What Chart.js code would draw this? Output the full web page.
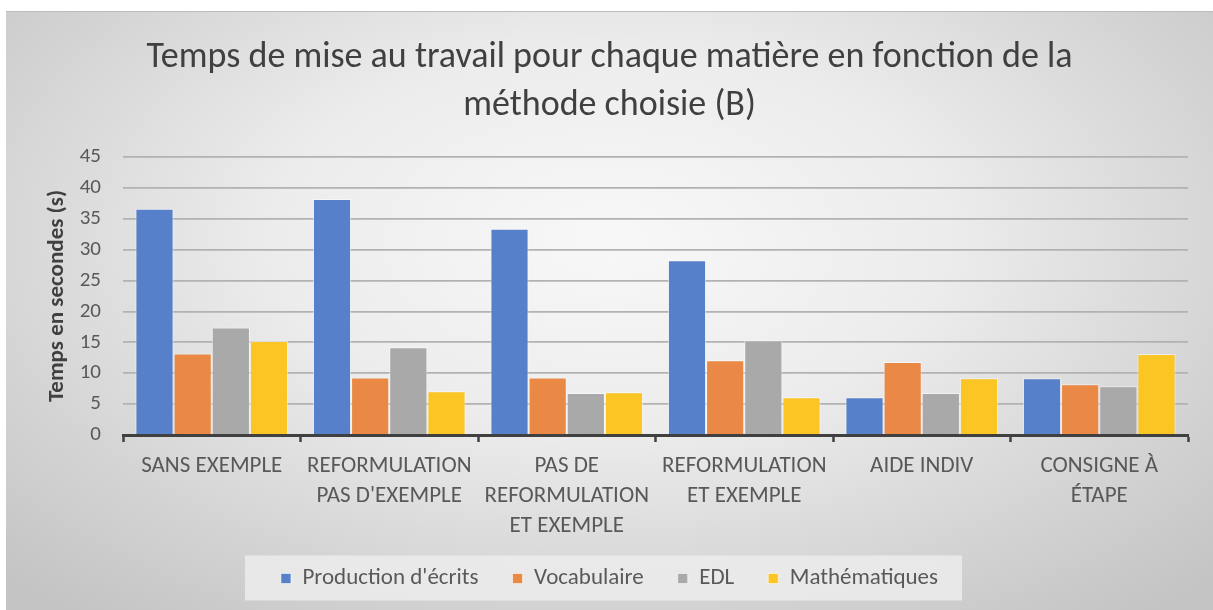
<!DOCTYPE html>
<html lang="fr">
<head>
<meta charset="utf-8">
<title>Temps de mise au travail</title>
<script src="https://cdn.jsdelivr.net/npm/chart.js@4.4.1/dist/chart.umd.min.js"></script>
<style>
  html, body { margin: 0; padding: 0; background: #ffffff; }
  #frame {
    position: absolute;
    left: 6px; top: 11px;
    width: 1207px; height: 599px;
    border-top: 1px solid #bdbdbd;
    box-sizing: border-box;
    background: radial-gradient(ellipse 70% 80% at 50% 38%, #f8f8f8 0%, #ececec 40%, #d4d4d4 75%, #c4c4c4 100%);
  }
  #chart { display: block; }
</style>
</head>
<body>
<div id="frame"><canvas id="chart" width="1207" height="598"></canvas></div>
<script>
const FONT = "Carlito, Lato, 'Liberation Sans', sans-serif";

const categories = [
  ['SANS EXEMPLE'],
  ['REFORMULATION', "PAS D'EXEMPLE"],
  ['PAS DE', 'REFORMULATION', 'ET EXEMPLE'],
  ['REFORMULATION', 'ET EXEMPLE'],
  ['AIDE INDIV'],
  ['CONSIGNE À', 'ÉTAPE']
];

const productionEcrits = [36.6, 38.2, 33.4, 28.3, 6.1, 9.2];
const vocabulaire      = [13.2, 9.3, 9.3, 12.1, 11.8, 8.2];
const edl              = [17.4, 14.2, 6.8, 15.3, 6.8, 7.9];
const mathematiques    = [15.2, 7.1, 6.9, 6.1, 9.2, 13.1];

const yTicks = [0, 5, 10, 15, 20, 25, 30, 35, 40, 45];

const seriesNames  = ["Production d'écrits", 'Vocabulaire', 'EDL', 'Mathématiques'];
const seriesColors = ['#5680c9', '#ea8846', '#a9a9a9', '#fbc523'];
const seriesValues = [productionEcrits, vocabulaire, edl, mathematiques];

// light panel behind the legend items
const legendPanel = {
  id: 'legendPanel',
  beforeDraw(chart) {
    const lg = chart.legend;
    if (!lg || !lg.legendHitBoxes || !lg.legendHitBoxes.length) return;
    const boxes = lg.legendHitBoxes;
    const left = Math.min(...boxes.map(b => b.left)) - 36;
    const right = Math.max(...boxes.map(b => b.left + b.width)) + 24;
    const mid = boxes[0].top + boxes[0].height / 2;
    const ctx = chart.ctx;
    ctx.save();
    ctx.fillStyle = 'rgba(236,236,236,0.85)';
    ctx.fillRect(left, mid - 23, right - left, 45);
    ctx.restore();
  }
};

new Chart(document.getElementById('chart'), {
  type: 'bar',
  data: {
    labels: categories,
    datasets: seriesNames.map((name, i) => ({
      label: name,
      data: seriesValues[i],
      backgroundColor: seriesColors[i],
      borderColor: 'rgba(255,255,255,0.55)',
      borderWidth: 1,
      barPercentage: 1,
      categoryPercentage: 0.86
    }))
  },
  options: {
    responsive: false,
    animation: false,
    layout: { padding: { left: 25, right: 25, top: 0, bottom: 10 } },
    plugins: {
      title: {
        display: true,
        text: ['Temps de mise au travail pour chaque matière en fonction de la', 'méthode choisie (B)'],
        color: '#404040',
        font: { family: FONT, size: 36, weight: '300', lineHeight: 1.333 },
        padding: { top: 22, bottom: 27 }
      },
      legend: {
        position: 'bottom',
        labels: {
          color: '#595959',
          font: { family: FONT, size: 23 },
          boxWidth: 10,
          boxHeight: 10,
          padding: 34
        }
      },
      tooltip: { enabled: false }
    },
    scales: {
      x: {
        grid: {
          offset: true,
          drawOnChartArea: false,
          drawTicks: true,
          tickLength: 7,
          tickWidth: 2.5,
          tickColor: '#404040'
        },
        border: { display: true, color: '#404040', width: 3 },
        ticks: {
          color: '#595959',
          font: { family: FONT, size: 23, lineHeight: 1.3 },
          padding: 9,
          maxRotation: 0,
          autoSkip: false
        },
        afterFit(scale) { scale.height = 98; }
      },
      y: {
        min: 0,
        max: 45,
        afterBuildTicks(scale) { scale.ticks = yTicks.map(v => ({ value: v })); },
        grid: { color: '#b2b2b2', lineWidth: 1.8, drawTicks: false },
        border: { display: false },
        ticks: {
          color: '#595959',
          font: { family: FONT, size: 21 },
          padding: 22
        },
        title: {
          display: true,
          text: 'Temps en secondes (s)',
          color: '#404040',
          font: { family: FONT, size: 23, weight: '600' },
          padding: { top: 12, bottom: 4 }
        },
        afterFit(scale) { scale.width = 92; }
      }
    }
  },
  plugins: [legendPanel]
});
</script>
</body>
</html>
